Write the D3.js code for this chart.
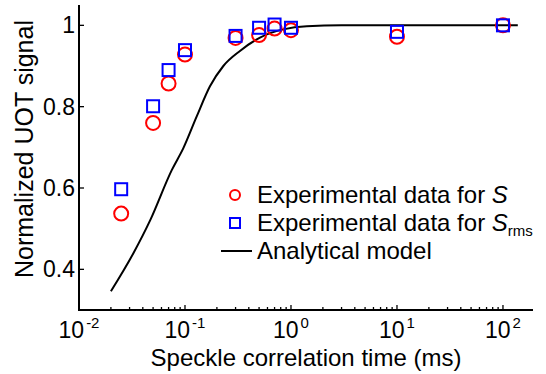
<!DOCTYPE html>
<html>
<head>
<meta charset="utf-8">
<script src="https://cdn.jsdelivr.net/npm/d3@7"></script>
<style>
  body { margin: 0; background: #fff; }
  text { font-family: "Liberation Sans", Arial, sans-serif; fill: #000; }
</style>
</head>
<body>
<div id="canvas_chart"></div>
<script>
// Speckle correlation times (ms) of the measured points.
let tau = [0.025, 0.05, 0.07, 0.1, 0.3, 0.5, 0.7, 1, 10, 100];

// Measured UOT signal for S (red circles) and S_rms (blue squares).
let signalS = [0.537, 0.760, 0.857, 0.928, 0.969, 0.976, 0.992, 0.988, 0.972, 1.0];
let signalRms = [0.597, 0.801, 0.890, 0.939, 0.974, 0.994, 1.002, 0.994, 0.984, 1.0];

// Analytical model.
let modelTau = [0.02, 0.0325, 0.047, 0.075, 0.0965, 0.129, 0.172, 0.23, 0.33, 0.51, 0.845, 1.41, 3, 10, 138];
let modelSignal = [0.346, 0.439, 0.521, 0.644, 0.698, 0.776, 0.850, 0.900, 0.937, 0.970, 0.990, 0.998, 1.0, 1.0, 1.0];

// Tick values.
let xTicks = [0.01, 0.1, 1, 10, 100];
let xExponents = ["-2", "-1", "0", "1", "2"];
let yTicks = [0.4, 0.6, 0.8, 1];
let yTickLabels = ["0.4", "0.6", "0.8", "1"];

// Plot size and position.
let width = 546;
let height = 374;
let plotLeft = 79, plotRight = 533, plotTop = 5, plotBottom = 310;

let svg = d3.select("#canvas_chart")
  .append("svg")
    .attr("width", width)
    .attr("height", height);

// Scales: log time axis, linear signal axis.
let x = d3.scaleLog()
  .domain([0.01, 192])
  .range([plotLeft, plotRight]);

let y = d3.scaleLinear()
  .domain([0.3, 1.05])
  .range([plotBottom, plotTop]);

// Minor ticks for the log axis (2..9 of each decade).
let minorTicks = x.ticks().filter(d => xTicks.indexOf(d) < 0);

svg.selectAll(".minor_tick")
  .data(minorTicks)
  .enter()
  .append("line")
    .attr("x1", d => x(d))
    .attr("x2", d => x(d))
    .attr("y1", plotBottom)
    .attr("y2", plotBottom - 3)
    .attr("stroke", "black")
    .attr("stroke-width", 1.3);

svg.selectAll(".major_tick")
  .data(xTicks)
  .enter()
  .append("line")
    .attr("x1", d => x(d))
    .attr("x2", d => x(d))
    .attr("y1", plotBottom)
    .attr("y2", plotBottom - 5)
    .attr("stroke", "black")
    .attr("stroke-width", 1.3);

svg.selectAll(".y_tick")
  .data(yTicks)
  .enter()
  .append("line")
    .attr("x1", plotLeft)
    .attr("x2", plotLeft + 5)
    .attr("y1", d => y(d))
    .attr("y2", d => y(d))
    .attr("stroke", "black")
    .attr("stroke-width", 1.3);

// Axis lines (no box, only left and bottom).
svg.append("path")
  .attr("d", "M" + plotLeft + "," + plotTop + "V" + plotBottom + "H" + plotRight)
  .attr("fill", "none")
  .attr("stroke", "black")
  .attr("stroke-width", 2);

// X tick labels: "10" plus a superscript exponent, centred together on the tick.
xTicks.forEach(function(d, i) {
  let base = svg.append("text")
    .attr("y", plotBottom + 28)
    .style("font-size", "23px")
    .text("10");
  let sup = svg.append("text")
    .attr("y", plotBottom + 18)
    .style("font-size", "15px")
    .text(xExponents[i]);
  let wBase = base.node().getComputedTextLength();
  let wSup = sup.node().getComputedTextLength();
  let start = x(d) - (wBase + wSup + 2) / 2;
  base.attr("x", start);
  sup.attr("x", start + wBase + 2);
});

// Y tick labels.
svg.selectAll(".y_label")
  .data(yTicks)
  .enter()
  .append("text")
    .attr("x", plotLeft - 4)
    .attr("y", d => y(d) + 8)
    .attr("text-anchor", "end")
    .style("font-size", "23px")
    .text((d, i) => yTickLabels[i]);

// Axis titles.
svg.append("text")
  .attr("x", 306)
  .attr("y", 366)
  .attr("text-anchor", "middle")
  .style("font-size", "24px")
  .text("Speckle correlation time (ms)");

svg.append("text")
  .attr("transform", "translate(33,149) rotate(-90)")
  .attr("text-anchor", "middle")
  .style("font-size", "25px")
  .text("Normalized UOT signal");

// Analytical model curve.
let line = d3.line()
  .x(d => x(d[0]))
  .y(d => y(d[1]))
  .curve(d3.curveMonotoneX);

svg.append("path")
  .datum(modelTau.map((d, i) => [d, modelSignal[i]]))
  .attr("d", line)
  .attr("fill", "none")
  .attr("stroke", "black")
  .attr("stroke-width", 2);

// Red circles for S.
svg.selectAll(".circle_s")
  .data(tau)
  .enter()
  .append("circle")
    .attr("cx", d => x(d))
    .attr("cy", (d, i) => y(signalS[i]))
    .attr("r", 7)
    .attr("fill", "none")
    .attr("stroke", "#ff0000")
    .attr("stroke-width", 2);

// Blue squares for S_rms.
svg.selectAll(".square_rms")
  .data(tau)
  .enter()
  .append("rect")
    .attr("x", d => x(d) - 6)
    .attr("y", (d, i) => y(signalRms[i]) - 6)
    .attr("width", 12)
    .attr("height", 12)
    .attr("fill", "none")
    .attr("stroke", "#0000ff")
    .attr("stroke-width", 2);

// Legend.
let legendX = 235, legendY = 195, rowGap = 28;

svg.append("circle")
  .attr("cx", legendX)
  .attr("cy", legendY)
  .attr("r", 5)
  .attr("fill", "none")
  .attr("stroke", "#ff0000")
  .attr("stroke-width", 2);

svg.append("rect")
  .attr("x", legendX - 5)
  .attr("y", legendY + rowGap - 5)
  .attr("width", 10)
  .attr("height", 10)
  .attr("fill", "none")
  .attr("stroke", "#0000ff")
  .attr("stroke-width", 2);

svg.append("line")
  .attr("x1", legendX - 14)
  .attr("x2", legendX + 17)
  .attr("y1", legendY + 2 * rowGap)
  .attr("y2", legendY + 2 * rowGap)
  .attr("stroke", "black")
  .attr("stroke-width", 2);

let t1 = svg.append("text")
  .attr("x", 257)
  .attr("y", legendY + 8)
  .style("font-size", "24px");
t1.append("tspan").text("Experimental data for ");
t1.append("tspan").style("font-style", "italic").text("S");

let t2 = svg.append("text")
  .attr("x", 257)
  .attr("y", legendY + rowGap + 8)
  .style("font-size", "24px");
t2.append("tspan").text("Experimental data for ");
t2.append("tspan").style("font-style", "italic").text("S");
t2.append("tspan")
  .attr("dy", 5)
  .style("font-size", "15px")
  .text("rms");

svg.append("text")
  .attr("x", 257)
  .attr("y", legendY + 2 * rowGap + 8)
  .style("font-size", "24px")
  .text("Analytical model");
</script>
</body>
</html>
